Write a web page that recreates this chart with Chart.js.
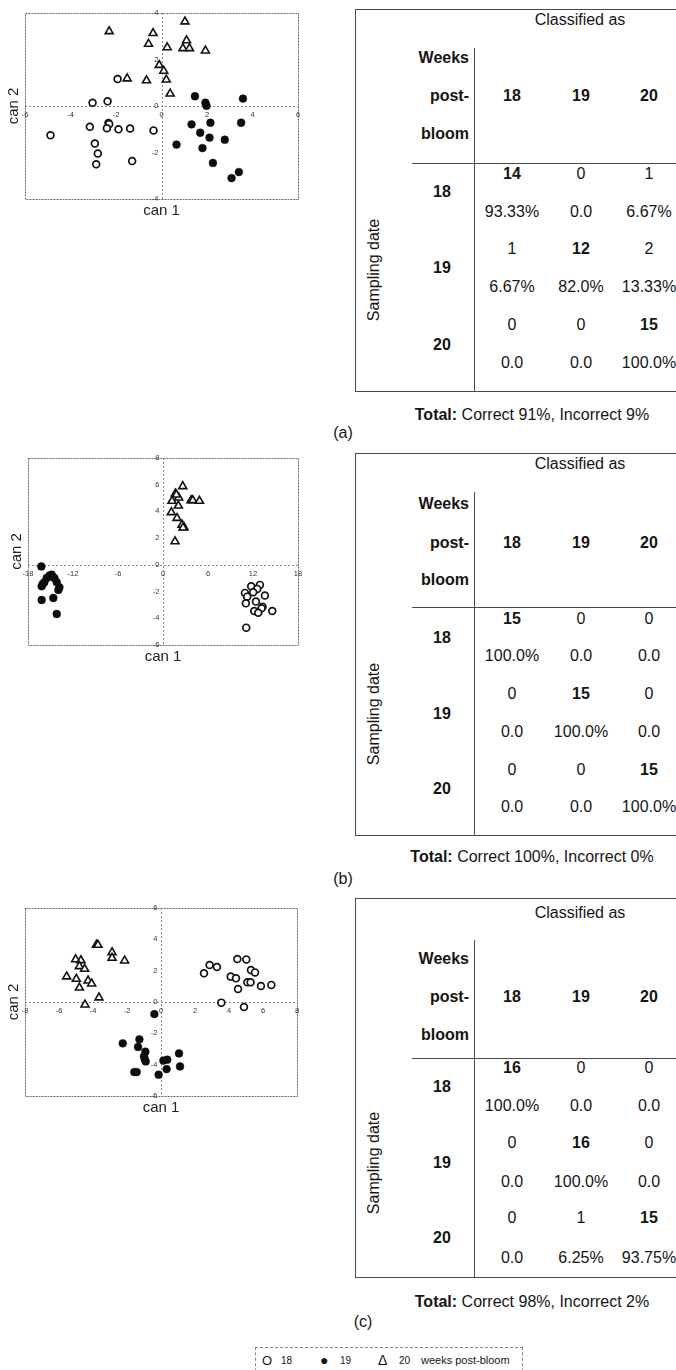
<!DOCTYPE html>
<html>
<head>
<meta charset="utf-8">
<script src="https://cdn.jsdelivr.net/npm/chart.js@4/dist/chart.umd.min.js"></script>
<style>
  html, body { margin: 0; padding: 0; background: #fff; }
  body { width: 676px; height: 1370px; position: relative; overflow: hidden;
         font-family: "Liberation Sans", Arial, sans-serif; color: #151515; }
  .plot { position: absolute; left: 0; width: 330px; }
  .t { position: absolute; font-size: 16px; white-space: nowrap; line-height: 1; transform: translate(-50%, -50%); }
  .r { transform: translate(-100%, -50%); }
  .b { font-weight: bold; }
  .rot { transform: translate(-50%, -50%) rotate(-90deg); }
  .frame { position: absolute; border: 1px solid #4a4a4a; box-sizing: border-box; }
  .ln { position: absolute; background: #4a4a4a; }
  .legend { position: absolute; left: 255px; top: 1347px; width: 268px; height: 30px;
            border: 1px dashed #888; box-sizing: border-box; font-size: 10px; }
  .legend span { position: absolute; top: 12px; transform: translateY(-50%); white-space: nowrap; }
</style>
</head>
<body>
<canvas id="plotA" class="plot" width="330" height="225" style="top:0px;height:225px"></canvas>
<canvas id="plotB" class="plot" width="330" height="230" style="top:440px;height:230px"></canvas>
<canvas id="plotC" class="plot" width="330" height="230" style="top:890px;height:230px"></canvas>

<div class="legend">
  <span style="left:6px;font-size:13px">O</span><span style="left:25px">18</span>
  <span style="left:64px;font-size:14px">&#9679;</span><span style="left:84px">19</span>
  <span style="left:122px;font-size:14px">&#916;</span><span style="left:143px">20</span>
  <span style="left:165px;font-size:11px">weeks post-bloom</span>
</div>

<script>
// Canonical discriminant scores (can 1, can 2) per sampling week
const a_wk18 = [[-1.93,1.16],[-3.03,0.14],[-2.37,0.20],[-4.88,-1.26],[-3.15,-0.89],[-2.33,-0.73],
                [-2.30,-0.78],[-2.40,-0.96],[-1.89,-1.00],[-1.38,-0.97],[-0.35,-1.05],[-2.93,-1.61],
                [-2.80,-2.04],[-2.87,-2.51],[-1.29,-2.37]];
const a_wk19 = [[1.47,0.42],[1.93,0.14],[1.98,0.01],[3.58,0.32],[1.32,-0.79],[2.15,-0.72],
                [3.50,-0.72],[1.70,-1.15],[2.11,-1.36],[2.78,-1.45],[0.66,-1.66],[1.80,-1.81],
                [2.26,-2.45],[3.40,-2.84],[3.08,-3.10]];
const a_wk20 = [[1.03,3.63],[-2.30,3.21],[-0.37,3.13],[-0.57,2.67],[0.25,2.52],[1.10,2.82],
                [0.94,2.48],[1.23,2.48],[1.93,2.38],[-0.10,1.76],[0.10,1.51],[-1.51,1.18],
                [-0.66,1.10],[0.21,1.13],[0.38,0.53]];

const b_wk18 = [[11.76,-1.60],[12.92,-1.50],[12.56,-1.80],[12.03,-2.05],[10.93,-2.10],[11.23,-2.38],
                [13.59,-2.30],[11.05,-2.88],[12.39,-2.75],[13.28,-3.13],[13.15,-3.25],[12.17,-3.45],
                [12.70,-3.58],[14.57,-3.45],[11.10,-4.70]];
const b_wk19 = [[-16.22,-0.12],[-15.15,-0.80],[-14.84,-0.73],[-15.50,-0.98],[-14.48,-0.98],[-15.82,-1.30],
                [-14.17,-1.30],[-16.18,-1.60],[-13.81,-1.68],[-13.95,-1.88],[-16.18,-2.63],[-14.62,-2.48],
                [-14.17,-3.68],[-15.06,-0.88],[-16.04,-1.43]];
const b_wk20 = [[2.63,5.88],[1.65,5.33],[2.09,5.03],[1.20,4.78],[3.74,4.83],[3.97,4.83],
                [4.86,4.78],[2.05,4.43],[1.11,3.93],[1.87,3.50],[2.54,3.00],[2.81,2.80],
                [2.67,2.78],[1.60,1.75],[1.78,5.25]];

const c_wk18 = [[2.53,1.83],[2.86,2.36],[3.29,2.23],[4.49,2.74],[5.02,2.72],[4.10,1.62],
                [4.41,1.51],[5.29,2.04],[5.53,1.89],[5.08,1.26],[5.27,1.26],[4.53,0.83],
                [5.88,1.02],[6.49,1.09],[3.55,-0.04],[4.88,-0.32]];
const c_wk19 = [[-0.39,-0.77],[-2.25,-2.64],[-1.27,-2.38],[-1.35,-2.87],[-0.92,-3.17],[-1.00,-3.47],
                [-0.90,-3.79],[1.06,-3.28],[0.14,-3.74],[0.37,-3.68],[0.33,-4.28],[1.12,-4.11],
                [-1.57,-4.47],[-1.43,-4.47],[-0.14,-4.64],[-0.96,-3.64]];
const c_wk20 = [[-3.80,3.64],[-3.71,3.64],[-2.88,3.17],[-2.88,2.81],[-2.14,2.64],[-5.02,2.72],
                [-4.71,2.66],[-4.80,2.28],[-4.49,2.11],[-5.55,1.62],[-4.98,1.47],[-4.29,1.36],
                [-4.08,1.17],[-4.80,0.91],[-3.65,0.28],[-4.47,-0.17]];

// Axis ticks
const a_xTicks = [-6,-4,-2,0,2,4,6];
const a_yTicks = [4,2,0,-2,-4];
const b_xTicks = [-18,-12,-6,0,6,12,18];
const b_yTicks = [8,6,4,2,0,-2,-4,-6];
const c_xTicks = [-8,-6,-4,-2,0,2,4,6,8];
const c_yTicks = [6,4,2,0,-2,-4,-6];

// Classification tables
const weeks = ['18','19','20'];
const a_counts = [[14,0,1],[1,12,2],[0,0,15]];
const a_pcts = [['93.33%','0.0','6.67%'],['6.67%','82.0%','13.33%'],['0.0','0.0','100.0%']];
const b_counts = [[15,0,0],[0,15,0],[0,0,15]];
const b_pcts = [['100.0%','0.0','0.0'],['0.0','100.0%','0.0'],['0.0','0.0','100.0%']];
const c_counts = [[16,0,0],[0,16,0],[0,1,15]];
const c_pcts = [['100.0%','0.0','0.0'],['0.0','100.0%','0.0'],['0.0','6.25%','93.75%']];
const a_total = 'Correct 91%, Incorrect 9%';
const b_total = 'Correct 100%, Incorrect 0%';
const c_total = 'Correct 98%, Incorrect 2%';

// Frame, crossing zero lines, tick labels and axis titles
const frameAxes = {
  id: 'frameAxes',
  beforeDatasetsDraw(chart, args, opts) {
    const { ctx, chartArea: a, scales: { x, y } } = chart;
    ctx.save();
    ctx.strokeStyle = '#666';
    ctx.lineWidth = 1;
    ctx.setLineDash([2, 1]);
    ctx.strokeRect(a.left + 0.5, a.top + 0.5, a.width, a.height);
    const x0 = Math.round(x.getPixelForValue(0)) + 0.5;
    const y0 = Math.round(y.getPixelForValue(0)) + 0.5;
    ctx.strokeStyle = '#888';
    ctx.setLineDash([2, 2]);
    ctx.beginPath();
    ctx.moveTo(x0, a.top); ctx.lineTo(x0, a.bottom);
    ctx.moveTo(a.left, y0); ctx.lineTo(a.right, y0);
    ctx.stroke();
    ctx.setLineDash([]);
    ctx.fillStyle = '#333';
    ctx.font = '7.5px "Liberation Sans", Arial, sans-serif';
    ctx.textAlign = 'center';
    ctx.textBaseline = 'top';
    opts.xTicks.forEach(v => ctx.fillText(String(v), x.getPixelForValue(v), y0 + 5));
    ctx.textAlign = 'right';
    ctx.textBaseline = 'middle';
    opts.yTicks.forEach(v => ctx.fillText(String(v), x0 - 4, y.getPixelForValue(v)));
    ctx.fillStyle = '#222';
    ctx.font = '15px "Liberation Sans", Arial, sans-serif';
    ctx.textAlign = 'center';
    ctx.textBaseline = 'middle';
    ctx.fillText('can 1', (a.left + a.right) / 2, a.bottom + 12);
    ctx.translate(a.left - 11, (a.top + a.bottom) / 2);
    ctx.rotate(-Math.PI / 2);
    ctx.fillText('can 2', 0, 0);
    ctx.restore();
  }
};

const toPts = arr => arr.map(p => ({ x: p[0], y: p[1] }));

function scatter(id, d18, d19, d20, xr, yr, xTicks, yTicks, pad) {
  new Chart(document.getElementById(id), {
    type: 'scatter',
    data: {
      datasets: [
        { label: '18', data: toPts(d18), pointStyle: 'circle', pointRadius: 3.4, borderWidth: 1.7,
          backgroundColor: '#ffffff', borderColor: '#111' },
        { label: '19', data: toPts(d19), pointStyle: 'circle', pointRadius: 3.9, borderWidth: 0.5,
          backgroundColor: '#0c0c0c', borderColor: '#0c0c0c' },
        { label: '20', data: toPts(d20), pointStyle: 'triangle', pointRadius: 4.6, borderWidth: 1.6,
          backgroundColor: '#ffffff', borderColor: '#111' }
      ]
    },
    options: {
      responsive: false,
      animation: false,
      layout: { padding: pad },
      plugins: { legend: { display: false }, tooltip: { enabled: false },
                 frameAxes: { xTicks, yTicks } },
      scales: {
        x: { type: 'linear', display: false, min: xr[0], max: xr[1] },
        y: { type: 'linear', display: false, min: yr[0], max: yr[1] }
      }
    },
    plugins: [frameAxes]
  });
}

scatter('plotA', a_wk18, a_wk19, a_wk20, [-6, 6], [-4, 4], a_xTicks, a_yTicks,
        { left: 25, top: 13, right: 32, bottom: 26 });
scatter('plotB', b_wk18, b_wk19, b_wk20, [-18, 18], [-6, 8], b_xTicks, b_yTicks,
        { left: 28, top: 18, right: 32, bottom: 25 });
scatter('plotC', c_wk18, c_wk19, c_wk20, [-8, 8], [-6, 6], c_xTicks, c_yTicks,
        { left: 25, top: 18, right: 33, bottom: 24 });

// Classification table blocks
function el(cls, text, x, y, html) {
  const d = document.createElement('div');
  d.className = cls;
  if (html) d.innerHTML = text; else d.textContent = text;
  d.style.left = x + 'px';
  d.style.top = y + 'px';
  document.body.appendChild(d);
  return d;
}
function box(cls, l, t, w, h) {
  const d = document.createElement('div');
  d.className = cls;
  Object.assign(d.style, { left: l + 'px', top: t + 'px', width: w + 'px', height: h + 'px' });
  document.body.appendChild(d);
}
const colX = [512, 581, 649];
function table(L, counts, pcts, total, cap) {
  box('frame', 355, L.top, 340, L.bottom - L.top);
  box('ln', 474, L.vTop, 1, L.bottom - L.vTop);
  box('ln', 412, L.hLine, 280, 1);
  el('t', 'Classified as', 580, L.classY);
  el('t r b', 'Weeks', 469, L.weeksY);
  el('t r b', 'post-', 469, L.postY);
  el('t r b', 'bloom', 469, L.bloomY);
  weeks.forEach((w, j) => el('t b', w, colX[j], L.postY));
  weeks.forEach((w, i) => {
    const R = L.rows[i];
    el('t b', w, 442, R[1]);
    counts[i].forEach((c, j) => el(i === j ? 't b' : 't', String(c), colX[j], R[0]));
    pcts[i].forEach((p, j) => el('t', p, colX[j], R[2]));
  });
  el('t rot', 'Sampling date', 374, L.sampY);
  el('t', '<b>Total:</b> ' + total, 532, L.totalY, true);
  el('t', cap, L.capX, L.capY);
}
table({ top: 9, bottom: 392, vTop: 48, hLine: 163, classY: 20, weeksY: 58, postY: 96, bloomY: 134,
        rows: [[174,192,212],[249,268,287],[325,345,363]], sampY: 270, totalY: 415, capX: 343, capY: 433 },
      a_counts, a_pcts, a_total, '(a)');
table({ top: 453, bottom: 836, vTop: 492, hLine: 607, classY: 464, weeksY: 504, postY: 543, bloomY: 580,
        rows: [[619,638,656],[694,714,732],[770,789,807]], sampY: 714, totalY: 857, capX: 343, capY: 879 },
      b_counts, b_pcts, b_total, '(b)');
table({ top: 898, bottom: 1278, vTop: 940, hLine: 1058, classY: 913, weeksY: 959, postY: 997, bloomY: 1035,
        rows: [[1068,1087,1106],[1143,1163,1182],[1218,1238,1258]], sampY: 1163, totalY: 1302, capX: 363, capY: 1322 },
      c_counts, c_pcts, c_total, '(c)');
</script>
</body>
</html>
